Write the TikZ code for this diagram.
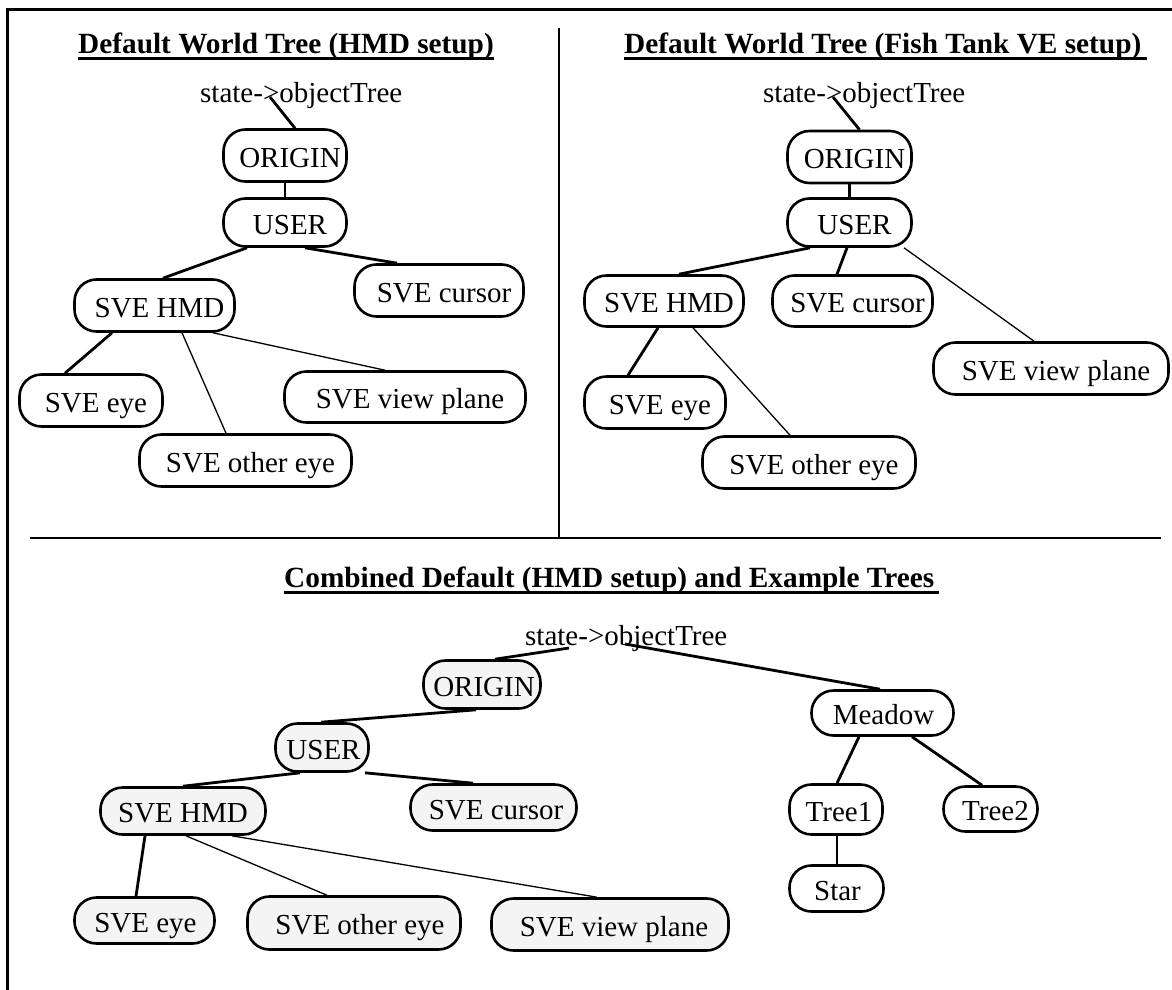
\documentclass[tikz,border=0pt]{standalone}
\usepackage{fontspec}
\setmainfont{Liberation Serif}
\usetikzlibrary{backgrounds,calc}
\definecolor{nodegray}{HTML}{F4F4F4}
\begin{document}
\begin{tikzpicture}[x=1pt,y=-1pt,
  every node/.style={font=\fontsize{29}{34}\selectfont},
  tnode/.style={draw, line width=2.6pt, rectangle, rounded corners=22pt,
    fill=white, inner sep=0pt, text height=23pt, text depth=0pt},
  gnode/.style={tnode, fill=nodegray},
  pad/.style={execute at begin node={\hspace*{#1}}},
  heavy/.style={line width=2.8pt},
  light/.style={line width=1.3pt},
  paneltitle/.style={font=\fontsize{29.3}{34}\selectfont\bfseries,
    anchor=base west, inner sep=0pt},
  rootname/.style={anchor=base west, inner sep=0pt},
  uline/.style={line width=3pt},
  frame/.style={line width=3pt, line join=miter},
  divider/.style={line width=2.6pt}
]
\useasboundingbox (0,0) rectangle (1172,990);

% frame and panel dividers
\draw[frame] (7,990) -- (7,10) -- (1172,10);
\draw[divider] (559,28) -- (559,538);
\draw[divider] (30,538) -- (1161,538);

% panel titles with underlines
\node[paneltitle] (tt1) at (78,53) {Default World Tree (HMD setup)};
\node[paneltitle] (tt2) at (624,53) {Default World Tree (Fish Tank VE setup)};
\node[paneltitle] (tt3) at (284,587) {Combined Default (HMD setup) and Example Trees};
\draw[uline] ($(tt1.base west)+(0,5.5)$) -- ($(tt1.base east)+(0,5.5)$);
\draw[uline] ($(tt2.base west)+(0,5.5)$) -- ($(tt2.base east)+(5,5.5)$);
\draw[uline] ($(tt3.base west)+(0,5.5)$) -- ($(tt3.base east)+(5,5.5)$);

% ---------- HMD setup ----------
\node[rootname] (st1) at (200,102) {state->objectTree};
\coordinate (st1tip) at ($(st1.base west)+(70,-5)$);
\node[tnode, pad=10pt, minimum width=123pt, minimum height=52pt] (o1) at (285,155.5) {ORIGIN};
\node[tnode, pad=10pt, minimum width=123pt, minimum height=48pt] (u1) at (285,222.5) {USER};
\node[tnode, pad=10pt, minimum width=160pt, minimum height=52pt] (h1) at (154.5,305.5) {SVE HMD};
\node[tnode, pad=10pt, minimum width=169pt, minimum height=52pt] (c1) at (439,290.5) {SVE cursor};
\node[tnode, pad=10pt, minimum width=143pt, minimum height=52pt] (e1) at (91,400.5) {SVE eye};
\node[tnode, pad=10pt, minimum width=212pt, minimum height=52pt] (oe1) at (245.5,460.5) {SVE other eye};
\node[tnode, pad=10pt, minimum width=241pt, minimum height=51pt] (v1) at (405,397) {SVE view plane};

% ---------- Fish Tank VE setup ----------
\node[rootname] (st2) at (763,102) {state->objectTree};
\coordinate (st2tip) at ($(st2.base west)+(70,-5)$);
\node[tnode, pad=10pt, minimum width=124pt, minimum height=52pt] (o2) at (849.5,157) {ORIGIN};
\node[tnode, pad=10pt, minimum width=124pt, minimum height=48pt] (u2) at (849.5,222.5) {USER};
\node[tnode, pad=10pt, minimum width=159pt, minimum height=51pt] (h2) at (664,301) {SVE HMD};
\node[tnode, pad=10pt, minimum width=160pt, minimum height=51pt] (c2) at (852.5,301) {SVE cursor};
\node[tnode, pad=10pt, minimum width=235pt, minimum height=52pt] (v2) at (1051,368.5) {SVE view plane};
\node[tnode, pad=10pt, minimum width=141pt, minimum height=52pt] (e2) at (655,402.5) {SVE eye};
\node[tnode, pad=10pt, minimum width=213pt, minimum height=52pt] (oe2) at (809,462.5) {SVE other eye};

% ---------- combined trees ----------
\node[rootname] (st3) at (525,645) {state->objectTree};
\coordinate (st3left) at ($(st3.base west)+(44,3)$);
\coordinate (st3right) at ($(st3.base west)+(100,-1)$);
\node[gnode, pad=4pt, minimum width=117pt, minimum height=48pt] (o3) at (482,684.5) {ORIGIN};
\node[gnode, pad=3pt, minimum width=93pt, minimum height=48pt] (u3) at (322,747.5) {USER};
\node[gnode, minimum width=165pt, minimum height=47pt] (h3) at (183,811) {SVE HMD};
\node[gnode, pad=5pt, minimum width=166pt, minimum height=46pt] (c3) at (493.5,807.5) {SVE cursor};
\node[gnode, pad=2pt, minimum width=140pt, minimum height=46pt] (e3) at (144.5,920.5) {SVE eye};
\node[gnode, pad=12pt, minimum width=213pt, minimum height=53pt] (oe3) at (354,923) {SVE other eye};
\node[gnode, pad=8pt, minimum width=237pt, minimum height=52pt] (v3) at (610,924.5) {SVE view plane};
\node[tnode, pad=2pt, minimum width=142pt, minimum height=45pt] (m) at (882.5,713) {Meadow};
\node[tnode, pad=6pt, minimum width=93pt, minimum height=50pt] (t1) at (836,809.5) {Tree1};
\node[tnode, pad=10pt, minimum width=94pt, minimum height=45pt] (t2) at (990.5,809) {Tree2};
\node[tnode, pad=2pt, minimum width=94pt, minimum height=46pt] (s) at (836.5,888.5) {Star};

\begin{pgfonlayer}{background}
  % HMD setup
  \draw[heavy] (st1tip) -- ([xshift=10pt]o1.north);
  \draw[heavy] (o1.south) -- (u1.north);
  \draw[heavy] ([xshift=-38pt]u1.south) -- ([xshift=8.5pt]h1.north);
  \draw[heavy] ([xshift=20pt]u1.south) -- ([xshift=-42pt]c1.north);
  \draw[heavy] ([xshift=-42.5pt]h1.south) -- ([xshift=-26pt]e1.north);
  \draw[light] ([xshift=27.5pt]h1.south) -- ([xshift=-19.5pt]oe1.north);
  \draw[light] ([xshift=58.5pt]h1.south) -- ([xshift=-20pt]v1.north);
  % Fish Tank VE setup
  \draw[heavy] (st2tip) -- ([xshift=10pt]o2.north);
  \draw[heavy] (o2.south) -- (u2.north);
  \draw[heavy] ([xshift=-39.5pt]u2.south) -- ([xshift=15pt]h2.north);
  \draw[heavy] ([xshift=-2.5pt]u2.south) -- ([xshift=-15.5pt]c2.north);
  \draw[light] ([xshift=54.5pt]u2.south) -- ([xshift=-17pt]v2.north);
  \draw[heavy] ([xshift=-6pt]h2.south) -- ([xshift=-27pt]e2.north);
  \draw[light] ([xshift=29pt]h2.south) -- ([xshift=-19pt]oe2.north);
  % combined trees
  \draw[heavy] (st3left) -- ([xshift=13pt]o3.north);
  \draw[heavy] (st3right) -- ([xshift=-2.5pt]m.north);
  \draw[heavy] ([xshift=-6pt]o3.south) -- ([xshift=-1pt]u3.north);
  \draw[heavy] ([xshift=-22pt]u3.south) -- (h3.north);
  \draw[heavy] ([xshift=43pt]u3.south) -- ([xshift=-20.5pt]c3.north);
  \draw[heavy] ([xshift=-38pt]h3.south) -- ([xshift=-8.5pt]e3.north);
  \draw[light] ([xshift=3pt]h3.south) -- ([xshift=-27pt]oe3.north);
  \draw[light] ([xshift=49pt]h3.south) -- ([xshift=-13pt]v3.north);
  \draw[heavy] ([xshift=-23.5pt]m.south) -- ([xshift=1pt]t1.north);
  \draw[heavy] ([xshift=29.5pt]m.south) -- ([xshift=-8.5pt]t2.north);
  \draw[heavy] ([xshift=1pt]t1.south) -- ([xshift=0.5pt]s.north);
\end{pgfonlayer}
\end{tikzpicture}
\end{document}
